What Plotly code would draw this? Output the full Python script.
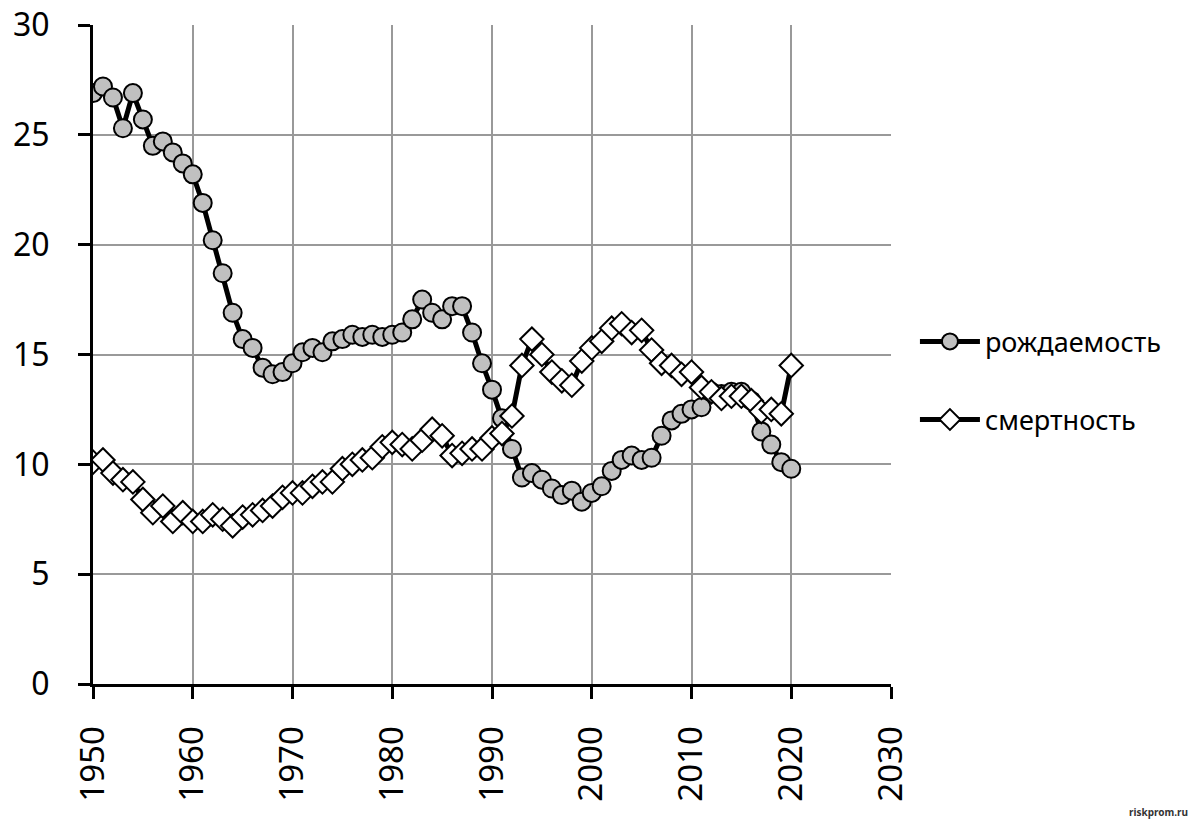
import plotly.graph_objects as go

years = list(range(1950, 2021))

births = [26.9, 27.2, 26.7, 25.3, 26.9, 25.7, 24.5, 24.7, 24.2, 23.7,
          23.2, 21.9, 20.2, 18.7, 16.9, 15.7, 15.3, 14.4, 14.1, 14.2,
          14.6, 15.1, 15.3, 15.1, 15.6, 15.7, 15.9, 15.8, 15.9, 15.8,
          15.9, 16.0, 16.6, 17.5, 16.9, 16.6, 17.2, 17.2, 16.0, 14.6,
          13.4, 12.1, 10.7, 9.4, 9.6, 9.3, 8.9, 8.6, 8.8, 8.3,
          8.7, 9.0, 9.7, 10.2, 10.4, 10.2, 10.3, 11.3, 12.0, 12.3,
          12.5, 12.6, 13.3, 13.2, 13.3, 13.3, 12.9, 11.5, 10.9, 10.1,
          9.8]

deaths = [10.1, 10.2, 9.6, 9.3, 9.2, 8.4, 7.8, 8.1, 7.4, 7.8,
          7.4, 7.4, 7.7, 7.5, 7.2, 7.6, 7.7, 7.9, 8.1, 8.5,
          8.7, 8.7, 9.0, 9.2, 9.2, 9.8, 10.0, 10.2, 10.3, 10.8,
          11.0, 10.9, 10.7, 11.1, 11.6, 11.3, 10.4, 10.5, 10.7, 10.7,
          11.2, 11.4, 12.2, 14.5, 15.7, 15.0, 14.2, 13.8, 13.6, 14.7,
          15.3, 15.6, 16.2, 16.4, 16.0, 16.1, 15.2, 14.6, 14.5, 14.1,
          14.2, 13.5, 13.3, 13.0, 13.1, 13.1, 12.9, 12.4, 12.5, 12.3,
          14.5]

x_ticks = [1950, 1960, 1970, 1980, 1990, 2000, 2010, 2020, 2030]
y_ticks = [0, 5, 10, 15, 20, 25, 30]

FONT = "Noto Sans"

fig = go.Figure()
fig.add_trace(go.Scatter(
    x=years, y=births, name="рождаемость", mode="lines+markers",
    legendgroup="b",
    line=dict(color="black", width=5),
    marker=dict(symbol="circle", size=18, color="#c0c0c0",
                line=dict(color="black", width=2)),
))
fig.add_trace(go.Scatter(
    x=years, y=deaths, name="смертность", mode="lines+markers",
    legendgroup="d",
    line=dict(color="black", width=5),
    marker=dict(symbol="diamond", size=18, color="white",
                line=dict(color="black", width=2)),
))

fig.update_layout(
    width=1200, height=828,
    margin=dict(l=85, r=317, t=17, b=152),
    plot_bgcolor="white", paper_bgcolor="white",
    font=dict(family=FONT, color="black"),
    legend=dict(x=1.03, y=0.46, xanchor="left", yanchor="middle",
                font=dict(size=27, family=FONT), tracegroupgap=40,
                itemwidth=60,
                traceorder="grouped", bgcolor="rgba(0,0,0,0)"),
    xaxis=dict(range=[1950, 2030], tickvals=x_ticks, tickangle=-90,
               tickfont=dict(size=33, family=FONT), automargin=False,
               ticklabeloverflow="allow", ticklabelstandoff=14,
               showgrid=True, gridcolor="#999999", gridwidth=2,
               showline=True, linecolor="black", linewidth=3,
               ticks="outside", ticklen=12, tickwidth=3, tickcolor="black",
               zeroline=False, mirror=False),
    yaxis=dict(range=[0, 30], tickvals=y_ticks, automargin=False,
               ticklabeloverflow="allow", ticklabelstandoff=22,
               tickfont=dict(size=32, family=FONT),
               showgrid=True, gridcolor="#999999", gridwidth=2,
               showline=True, linecolor="black", linewidth=3,
               ticks="outside", ticklen=12, tickwidth=3, tickcolor="black",
               zeroline=False),
    annotations=[dict(text="<b>riskprom.ru</b>", x=1.375, y=0.0, xref="paper", yref="paper",
                      xanchor="right", yanchor="middle", showarrow=False,
                      font=dict(size=10, family=FONT, color="#333333"),
                      yshift=-128)],
)

fig.write_html("out.html")
